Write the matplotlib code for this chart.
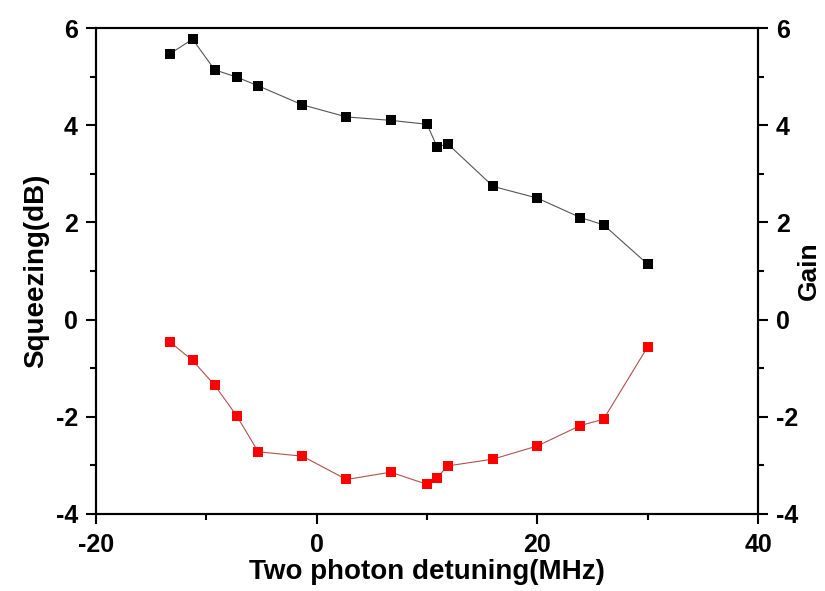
import numpy as np
import matplotlib
matplotlib.use('Agg')
from matplotlib import pyplot as plt
from matplotlib.ticker import MultipleLocator

plt.rcParams['font.family'] = ['Liberation Sans', 'DejaVu Sans']
plt.rcParams['font.weight'] = 'bold'
plt.rcParams['axes.unicode_minus'] = False

# two photon detuning (MHz)
detuning = [-13.3, -11.25, -9.25, -7.25, -5.3, -1.3, 2.7, 6.7,
            10.0, 10.9, 11.9, 16.0, 20.0, 23.9, 26.0, 30.0]
# gain (black)
gain = [5.47, 5.77, 5.14, 4.99, 4.81, 4.42, 4.17, 4.10,
        4.02, 3.56, 3.61, 2.74, 2.50, 2.10, 1.95, 1.14]
# squeezing dB (red)
squeezing = [-0.46, -0.84, -1.35, -1.98, -2.72, -2.81, -3.29, -3.14,
             -3.39, -3.25, -3.01, -2.87, -2.60, -2.18, -2.05, -0.56]

fig = plt.figure(figsize=(8.25, 5.91), dpi=100)
ax = fig.add_axes([0.1164, 0.1303, 0.8024, 0.8223])

ax.plot(detuning, squeezing, '-', color='#b05050', lw=0.8, zorder=1)
ax.plot(detuning, squeezing, 's', color='#ff0000', ms=6.5, mew=0, zorder=2)
ax.plot(detuning, gain, '-', color='#555555', lw=0.8, zorder=1)
ax.plot(detuning, gain, 's', color='black', ms=6.5, mew=0, zorder=2)

ax.set_xlim(-20, 40)
ax.set_ylim(-4, 6)
ax.xaxis.set_major_locator(MultipleLocator(20))
ax.xaxis.set_minor_locator(MultipleLocator(10))
ax.yaxis.set_major_locator(MultipleLocator(2))
ax.yaxis.set_minor_locator(MultipleLocator(1))

ax2 = ax.twinx()
ax2.set_ylim(-4, 6)
ax2.yaxis.set_major_locator(MultipleLocator(2))
ax2.yaxis.set_minor_locator(MultipleLocator(1))

for a in (ax, ax2):
    for s in a.spines.values():
        s.set_linewidth(1.5)
    a.tick_params(which='major', direction='out', length=7, width=1.5,
                  labelsize=18, pad=6)
    a.tick_params(which='minor', direction='out', length=4, width=1.5)
ax.tick_params(axis='x', pad=7)

ax.set_xlabel('Two photon detuning(MHz)', fontsize=20, fontweight='bold',
              labelpad=1)
ax.set_ylabel('Squeezing(dB)', fontsize=20, fontweight='bold', labelpad=5)
ax2.set_ylabel('Gain', fontsize=19, fontweight='bold', labelpad=-1)

fig.savefig('out.png', dpi=100)
